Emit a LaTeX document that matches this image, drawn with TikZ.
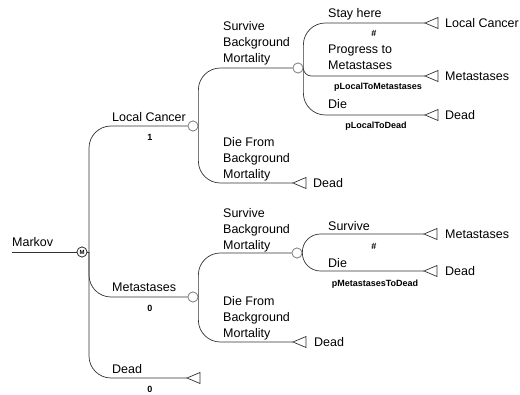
\documentclass[tikz,border=0pt]{standalone}
\usepackage{fontspec}
\setmainfont{Liberation Sans}
\usepackage{tikz}
\usetikzlibrary{positioning}

\tikzset{
  branch/.style={draw=black!80, line width=0.7pt, rounded corners=22pt},
  chance/.style={circle, draw=gray, fill=white, line width=0.7pt, minimum size=10pt, inner sep=0pt},
  markov/.style={circle, draw=black!80, fill=white, line width=0.7pt, minimum size=10pt, inner sep=0pt, font=\fontsize{6}{6}\selectfont\bfseries},
  term/.style={draw=black!80, line width=0.7pt, fill=white},
  lbl/.style={anchor=north west, inner sep=0pt, align=left, font=\fontsize{12.5}{16}\selectfont},
  prob/.style={anchor=north, inner sep=0pt, font=\fontsize{9}{10}\selectfont\bfseries},
  outc/.style={anchor=west, inner sep=0pt, font=\fontsize{12.5}{16}\selectfont},
}

\begin{document}
\begin{tikzpicture}[x=1pt,y=-1pt]
  \useasboundingbox (0,0) rectangle (520,395);

  \node[markov] (mk) at (82,252) {M};
  \coordinate (mkin) at (12,252);
  \coordinate (mkfork) at (89,252);
  \node[chance] (lc) at (193,126) {};
  \node[chance] (mt) at (193,297) {};
  \coordinate (dd) at (187,378);
  \node[chance] (sb1) at (298,68) {};
  \coordinate (dfb1) at (293,183);
  \node[chance] (sb2) at (297,253) {};
  \coordinate (dfb2) at (293,342);
  \coordinate (stay) at (425,23);
  \coordinate (prog) at (425,76);
  \coordinate (die1) at (425,115);
  \coordinate (surv) at (424,234);
  \coordinate (die2) at (424,271);

  %markov
  \draw[branch] (mkin) -- (mk.west);
  \draw[branch] (mk.east) -- (mkfork);
  \draw[branch] (mkfork) |- (lc.west);
  \draw[branch] (mkfork) |- (mt.west);
  \draw[branch] (mkfork) |- (dd);
  \node[lbl] (mkl) at (12,237) {Markov};
  \node[lbl] (lcl) at (112,112) {Local Cancer};
  \node[prob] (lcp) at (150,134) {1};
  \node[lbl] (mtl) at (112,283) {Metastases};
  \node[prob] (mtp) at (150,305) {0};
  \node[lbl] (ddl) at (112,364) {Dead};
  \node[prob] (ddp) at (150,386) {0};

  %local cancer
  \draw[branch] (lc.east) |- (sb1.west);
  \draw[branch] (lc.east) |- (dfb1);
  \node[lbl] (sb1l) at (223,21) {Survive\\Background\\Mortality};
  \node[lbl] (dfb1l) at (223,137) {Die From\\Background\\Mortality};
  \node[outc, right=20pt of dfb1] (dfb1o) {Dead};

  \draw[branch] (sb1.east) |- (stay);
  \draw[branch, rounded corners=8pt] (sb1.east) |- (prog);
  \draw[branch] (sb1.east) |- (die1);
  \node[lbl] (stayl) at (328,8) {Stay here};
  \node[prob] (stayp) at (374,30) {\#};
  \node[outc, right=20pt of stay] (stayo) {Local Cancer};
  \node[lbl] (progl) at (328,45) {Progress to\\Metastases};
  \node[prob] (progp) at (378,83) {pLocalToMetastases};
  \node[outc, right=20pt of prog] (progo) {Metastases};
  \node[lbl] (die1l) at (328,99) {Die};
  \node[prob] (die1p) at (376,122) {pLocalToDead};
  \node[outc, right=20pt of die1] (die1o) {Dead};

  %metastases
  \draw[branch] (mt.east) |- (sb2.west);
  \draw[branch] (mt.east) |- (dfb2);
  \node[lbl] (sb2l) at (223,208) {Survive\\Background\\Mortality};
  \node[lbl] (dfb2l) at (223,296) {Die From\\Background\\Mortality};
  \node[outc, right=21pt of dfb2] (dfb2o) {Dead};

  \draw[branch, rounded corners=18pt] (sb2.east) |- (surv);
  \draw[branch, rounded corners=18pt] (sb2.east) |- (die2);
  \node[lbl] (survl) at (328,221) {Survive};
  \node[prob] (survp) at (374,243) {\#};
  \node[outc, right=21pt of surv] (survo) {Metastases};
  \node[lbl] (die2l) at (328,258) {Die};
  \node[prob] (die2p) at (375,280) {pMetastasesToDead};
  \node[outc, right=21pt of die2] (die2o) {Dead};

  %terminals
  \foreach \t in {dd,dfb1,dfb2,stay,prog,die1,surv,die2}
    \draw[term] (\t) -- ++(13,-5.5) -- ++(0,11) -- cycle;
  \node[markov] at (mk) {M};
  \node[chance] at (lc) {};
  \node[chance] at (mt) {};
  \node[chance] at (sb1) {};
  \node[chance] at (sb2) {};
\end{tikzpicture}
\end{document}
